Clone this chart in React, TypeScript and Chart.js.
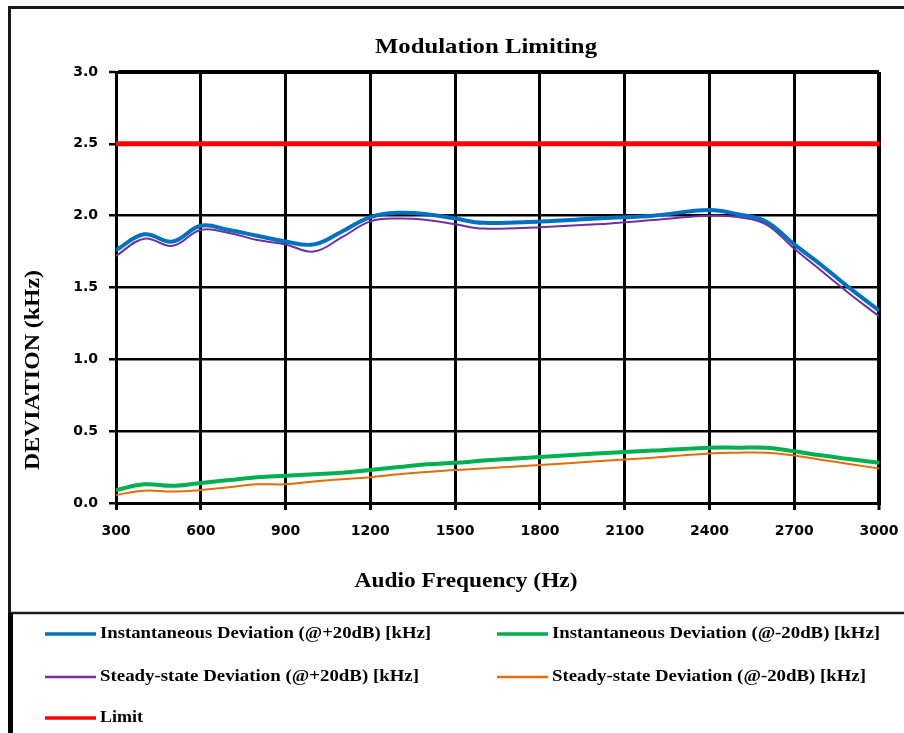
import React, { useEffect, useRef } from "react";
import { Chart, registerables } from "chart.js";

Chart.register(...registerables);

const chartTitle = "Modulation Limiting";
const xAxisTitle = "Audio Frequency (Hz)";
const yAxisTitle = "DEVIATION (kHz)";

const freqs = [300, 400, 500, 600, 700, 800, 900, 1000, 1100, 1200, 1300, 1400, 1500, 1600, 1800, 2000, 2200, 2400, 2500, 2600, 2700, 2800, 2900, 3000];
const instPlus = [1.76, 1.87, 1.82, 1.93, 1.9, 1.86, 1.82, 1.8, 1.89, 1.99, 2.02, 2.01, 1.98, 1.95, 1.96, 1.98, 2.0, 2.04, 2.01, 1.96, 1.8, 1.65, 1.49, 1.34];
const instMinus = [0.09, 0.13, 0.12, 0.14, 0.16, 0.18, 0.19, 0.2, 0.21, 0.23, 0.25, 0.27, 0.28, 0.295, 0.32, 0.345, 0.365, 0.385, 0.385, 0.385, 0.36, 0.33, 0.305, 0.28];
const steadyPlus = [1.72, 1.84, 1.79, 1.9, 1.88, 1.83, 1.8, 1.75, 1.85, 1.96, 1.98, 1.97, 1.94, 1.91, 1.92, 1.94, 1.97, 2.0, 1.99, 1.94, 1.77, 1.61, 1.45, 1.3];
const steadyMinus = [0.056, 0.086, 0.08, 0.09, 0.11, 0.13, 0.13, 0.15, 0.165, 0.18, 0.2, 0.215, 0.23, 0.24, 0.265, 0.29, 0.315, 0.345, 0.35, 0.35, 0.33, 0.3, 0.27, 0.24];
const limitFreqs = [300, 3000];
const limitValues = [2.5, 2.5];

const seriesLabels = [
  "Instantaneous Deviation (@+20dB) [kHz]",
  "Instantaneous Deviation (@-20dB) [kHz]",
  "Steady-state Deviation (@+20dB) [kHz]",
  "Steady-state Deviation (@-20dB) [kHz]",
  "Limit",
];

const xTickValues = [300, 600, 900, 1200, 1500, 1800, 2100, 2400, 2700, 3000];
const yTickValues = [0, 0.5, 1, 1.5, 2, 2.5, 3];
const yTickLabels = ["0.0", "0.5", "1.0", "1.5", "2.0", "2.5", "3.0"];

const toPoints = (xs: number[], ys: number[]) => xs.map((x, i) => ({ x, y: ys[i] }));

function fitText(
  ctx: CanvasRenderingContext2D,
  text: string,
  x: number,
  y: number,
  targetWidth: number,
  font: string,
  align: CanvasTextAlign,
  rotate = 0
) {
  ctx.save();
  ctx.font = font;
  const w = ctx.measureText(text).width;
  const sx = targetWidth / w;
  ctx.translate(x, y);
  if (rotate) ctx.rotate(rotate);
  ctx.scale(sx, 1);
  ctx.textAlign = align;
  ctx.textBaseline = "middle";
  ctx.fillStyle = "#000";
  ctx.fillText(text, 0, 0);
  ctx.restore();
}

const decorPlugin = {
  id: "decor",
  afterDraw(chart: any) {
    const ctx: CanvasRenderingContext2D = chart.ctx;
    ctx.save();
    ctx.strokeStyle = "#1a1a1a";
    ctx.lineWidth = 3;
    ctx.beginPath();
    ctx.moveTo(9.5, 733);
    ctx.lineTo(9.5, 7.5);
    ctx.lineTo(904, 7.5);
    ctx.stroke();
    ctx.lineWidth = 2.5;
    ctx.beginPath();
    ctx.moveTo(9, 613);
    ctx.lineTo(904, 613);
    ctx.stroke();
    ctx.fillStyle = "#000";
    ctx.fillRect(8, 613, 5, 120);
    ctx.restore();

    const serif = '"Liberation Serif", "Times New Roman", serif';
    fitText(ctx, chartTitle, 486, 47, 222, `bold 22px ${serif}`, "center");
    fitText(ctx, xAxisTitle, 466, 582, 223, `bold 21px ${serif}`, "center");
    fitText(ctx, yAxisTitle, 34, 370, 200, `bold 21px ${serif}`, "center", -Math.PI / 2);

    const cols = [45, 497];
    const rows = [634, 677, 718];
    const widths = [331, 328, 319, 314, 43];
    chart.data.datasets.forEach((ds: any, i: number) => {
      const col = i % 2;
      const row = Math.floor(i / 2);
      const x = cols[col];
      const y = rows[row];
      ctx.save();
      ctx.strokeStyle = ds.borderColor;
      ctx.lineWidth = ds.borderWidth >= 3 ? 3.5 : 2.5;
      ctx.beginPath();
      ctx.moveTo(x, y);
      ctx.lineTo(x + 51, y);
      ctx.stroke();
      ctx.restore();
      fitText(ctx, ds.label, x + 55, y, widths[i], `bold 16px ${serif}`, "left");
    });
  },
};

export default function App() {
  const canvasRef = useRef<HTMLCanvasElement | null>(null);

  useEffect(() => {
    const canvas = canvasRef.current;
    if (!canvas) return;
    const tickFont = { family: '"DejaVu Sans", Verdana, sans-serif', size: 14, weight: "bold" as const };
    const chart = new Chart(canvas, {
      type: "line",
      data: {
        datasets: [
          { label: seriesLabels[0], data: toPoints(freqs, instPlus), borderColor: "#0070C0", borderWidth: 4, tension: 0.4 },
          { label: seriesLabels[1], data: toPoints(freqs, instMinus), borderColor: "#00B050", borderWidth: 4, tension: 0.4 },
          { label: seriesLabels[2], data: toPoints(freqs, steadyPlus), borderColor: "#7030A0", borderWidth: 2, tension: 0.4 },
          { label: seriesLabels[3], data: toPoints(freqs, steadyMinus), borderColor: "#E46C0A", borderWidth: 2, tension: 0.4 },
          { label: seriesLabels[4], data: toPoints(limitFreqs, limitValues), borderColor: "#FF0000", borderWidth: 5, tension: 0 },
        ].map((d) => ({ ...d, pointRadius: 0, pointHoverRadius: 0, fill: false, backgroundColor: d.borderColor })),
      },
      options: {
        responsive: false,
        animation: false,
        devicePixelRatio: 1,
        layout: { padding: { left: 0, top: 72, right: 25, bottom: 0 } },
        plugins: {
          legend: { display: false },
          title: { display: false },
          tooltip: { enabled: false },
        },
        scales: {
          x: {
            type: "linear",
            min: 300,
            max: 3000,
            afterBuildTicks: (scale: any) => {
              scale.ticks = xTickValues.map((v) => ({ value: v }));
            },
            afterFit: (scale: any) => {
              scale.height = 230;
              scale.paddingLeft = 0;
              scale.paddingRight = 0;
            },
            ticks: {
              color: "#000",
              font: tickFont,
              padding: 13,
              maxRotation: 0,
              autoSkip: false,
              callback: (v: any) => String(v),
            },
            grid: {
              color: "#000",
              lineWidth: (c: any) => (c.index === xTickValues.length - 1 ? 4 : 3),
              tickLength: 7,
              tickWidth: 3,
              tickColor: "#000",
            },
            border: { display: true, color: "#000", width: 3 },
          },
          y: {
            type: "linear",
            min: 0,
            max: 3,
            afterBuildTicks: (scale: any) => {
              scale.ticks = yTickValues.map((v) => ({ value: v }));
            },
            afterFit: (scale: any) => {
              scale.width = 116;
              scale.paddingTop = 0;
              scale.paddingBottom = 0;
            },
            ticks: {
              color: "#000",
              font: tickFont,
              padding: 11,
              autoSkip: false,
              callback: (_v: any, i: number) => yTickLabels[i],
            },
            grid: {
              color: "#000",
              lineWidth: (c: any) => (c.index === yTickValues.length - 1 ? 4 : 2.5),
              tickLength: 7,
              tickWidth: 2.5,
              tickColor: "#000",
            },
            border: { display: true, color: "#000", width: 3 },
          },
        },
      },
      plugins: [decorPlugin],
    } as any);
    return () => chart.destroy();
  }, []);

  return (
    <div style={{ position: "absolute", left: 0, top: 0, width: 904, height: 733, background: "#fff", overflow: "hidden" }}>
      <canvas ref={canvasRef} width={904} height={733} style={{ display: "block", width: 904, height: 733 }} />
    </div>
  );
}
